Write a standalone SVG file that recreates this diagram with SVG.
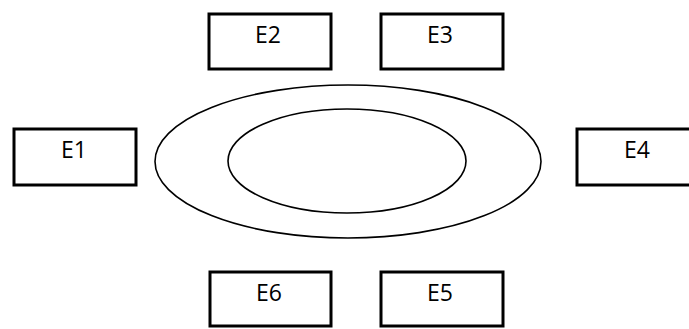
<svg xmlns="http://www.w3.org/2000/svg" width="689" height="329" viewBox="0 0 689 329">
<style>
.box{fill:#fff;stroke:#000;stroke-width:3}
.lbl{font-family:"Open Sans","Liberation Sans",sans-serif;font-size:23px;fill:#000;text-anchor:middle}
.ring{fill:none;stroke:#000;stroke-width:1.6}
</style>
<rect width="689" height="329" fill="#fff"/>
<g id="rings">
<ellipse id="outer" class="ring" cx="348" cy="161.5" rx="193" ry="76.5"/>
<ellipse id="inner" class="ring" cx="347" cy="161" rx="119" ry="52"/>
</g>
<g id="connectors"></g>
<g id="E1"><rect class="box" x="14" y="129" width="122" height="56"/><text class="lbl" x="74" y="158">E1</text></g>
<g id="E2"><rect class="box" x="209" y="14" width="122" height="55"/><text class="lbl" x="268" y="43">E2</text></g>
<g id="E3"><rect class="box" x="381" y="14" width="122" height="55"/><text class="lbl" x="440" y="43">E3</text></g>
<g id="E4"><rect class="box" x="577" y="129" width="122" height="56"/><text class="lbl" x="637" y="158">E4</text></g>
<g id="E5"><rect class="box" x="381" y="272" width="122" height="54"/><text class="lbl" x="440" y="301">E5</text></g>
<g id="E6"><rect class="box" x="210" y="272" width="121" height="54"/><text class="lbl" x="269" y="301">E6</text></g>
</svg>
